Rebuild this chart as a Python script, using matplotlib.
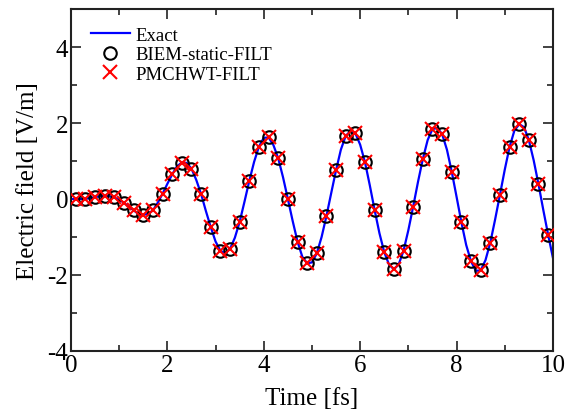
import numpy as np
import matplotlib
matplotlib.use("Agg")
import matplotlib.pyplot as plt
from matplotlib.ticker import MultipleLocator

plt.rcParams["font.family"] = ["Liberation Serif", "DejaVu Serif"]
plt.rcParams["axes.unicode_minus"] = False

# exact solution, read every 0.1 fs
t_exact = np.round(np.arange(0, 10.01, 0.1), 2)
e_exact = [0.00, 0.00, 0.00, 0.00, 0.03, 0.05, 0.07, 0.08, 0.07, 0.04,
           -0.02, -0.10, -0.20, -0.30, -0.39, -0.42, -0.39, -0.30, -0.10, 0.14,
           0.40, 0.65, 0.86, 0.96, 0.95, 0.80, 0.50, 0.13, -0.32, -0.74,
           -1.12, -1.36, -1.43, -1.31, -1.02, -0.60, -0.07, 0.48, 0.98, 1.38,
           1.61, 1.62, 1.42, 1.07, 0.57, 0.00, -0.58, -1.12, -1.52, -1.69,
           -1.67, -1.43, -1.00, -0.45, 0.16, 0.76, 1.30, 1.66, 1.79, 1.73,
           1.43, 0.97, 0.36, -0.29, -0.90, -1.40, -1.73, -1.85, -1.72, -1.36,
           -0.82, -0.20, 0.45, 1.05, 1.55, 1.84, 1.87, 1.71, 1.30, 0.72,
           0.06, -0.61, -1.21, -1.64, -1.89, -1.88, -1.61, -1.15, -0.54, 0.11,
           0.77, 1.37, 1.80, 1.97, 1.89, 1.55, 1.02, 0.39, -0.29, -0.94,
           -1.55]

# sampled results (both methods sit on the same points)
t_samp = np.round(np.arange(0.1, 10.0, 0.2), 2)
e_biem = [0.00, 0.00, 0.05, 0.08, 0.04, -0.10, -0.30, -0.42, -0.30, 0.14,
          0.65, 0.96, 0.80, 0.13, -0.74, -1.36, -1.31, -0.60, 0.48, 1.38,
          1.62, 1.07, 0.00, -1.12, -1.69, -1.43, -0.45, 0.76, 1.66, 1.73,
          0.97, -0.29, -1.40, -1.85, -1.36, -0.20, 1.05, 1.84, 1.71, 0.72,
          -0.61, -1.64, -1.88, -1.15, 0.11, 1.37, 1.97, 1.55, 0.39, -0.94]
e_pmchwt = e_biem

fig = plt.figure(figsize=(5.79, 4.14), dpi=100)
ax = fig.add_axes([0.1226, 0.1498, 0.8324, 0.826])

ax.plot(t_exact, e_exact, color="#0000ff", lw=1.6, label="Exact", zorder=2)
ax.plot(t_samp, e_biem, "o", ms=9, mfc="none", mec="black", mew=1.5,
        label="BIEM-static-FILT", zorder=3)
ax.plot(t_samp, e_pmchwt, "x", ms=10, mec="red", mew=1.5,
        label="PMCHWT-FILT", zorder=4)

ax.set_xlim(0, 10)
ax.set_ylim(-4, 5)
ax.xaxis.set_major_locator(MultipleLocator(2))
ax.xaxis.set_minor_locator(MultipleLocator(1))
ax.yaxis.set_major_locator(MultipleLocator(2))
ax.yaxis.set_minor_locator(MultipleLocator(1))
ax.tick_params(which="both", direction="in", top=True, right=True,
               labelsize=18, width=1.2, color="#222222")
ax.tick_params(which="major", length=7, pad=2)
ax.tick_params(which="minor", length=4)
for s in ax.spines.values():
    s.set_linewidth(1.5)
    s.set_color("#222222")

ax.set_xlabel("Time [fs]", fontsize=18, labelpad=8)
ax.set_ylabel("Electric field [V/m]", fontsize=18, labelpad=6)

ax.legend(loc="upper left", bbox_to_anchor=(0.041, 0.948), frameon=False,
          fontsize=13.5, handlelength=2.1, handletextpad=0.3,
          labelspacing=0.13, borderaxespad=0, borderpad=0)

fig.savefig("out.png", dpi=100)
